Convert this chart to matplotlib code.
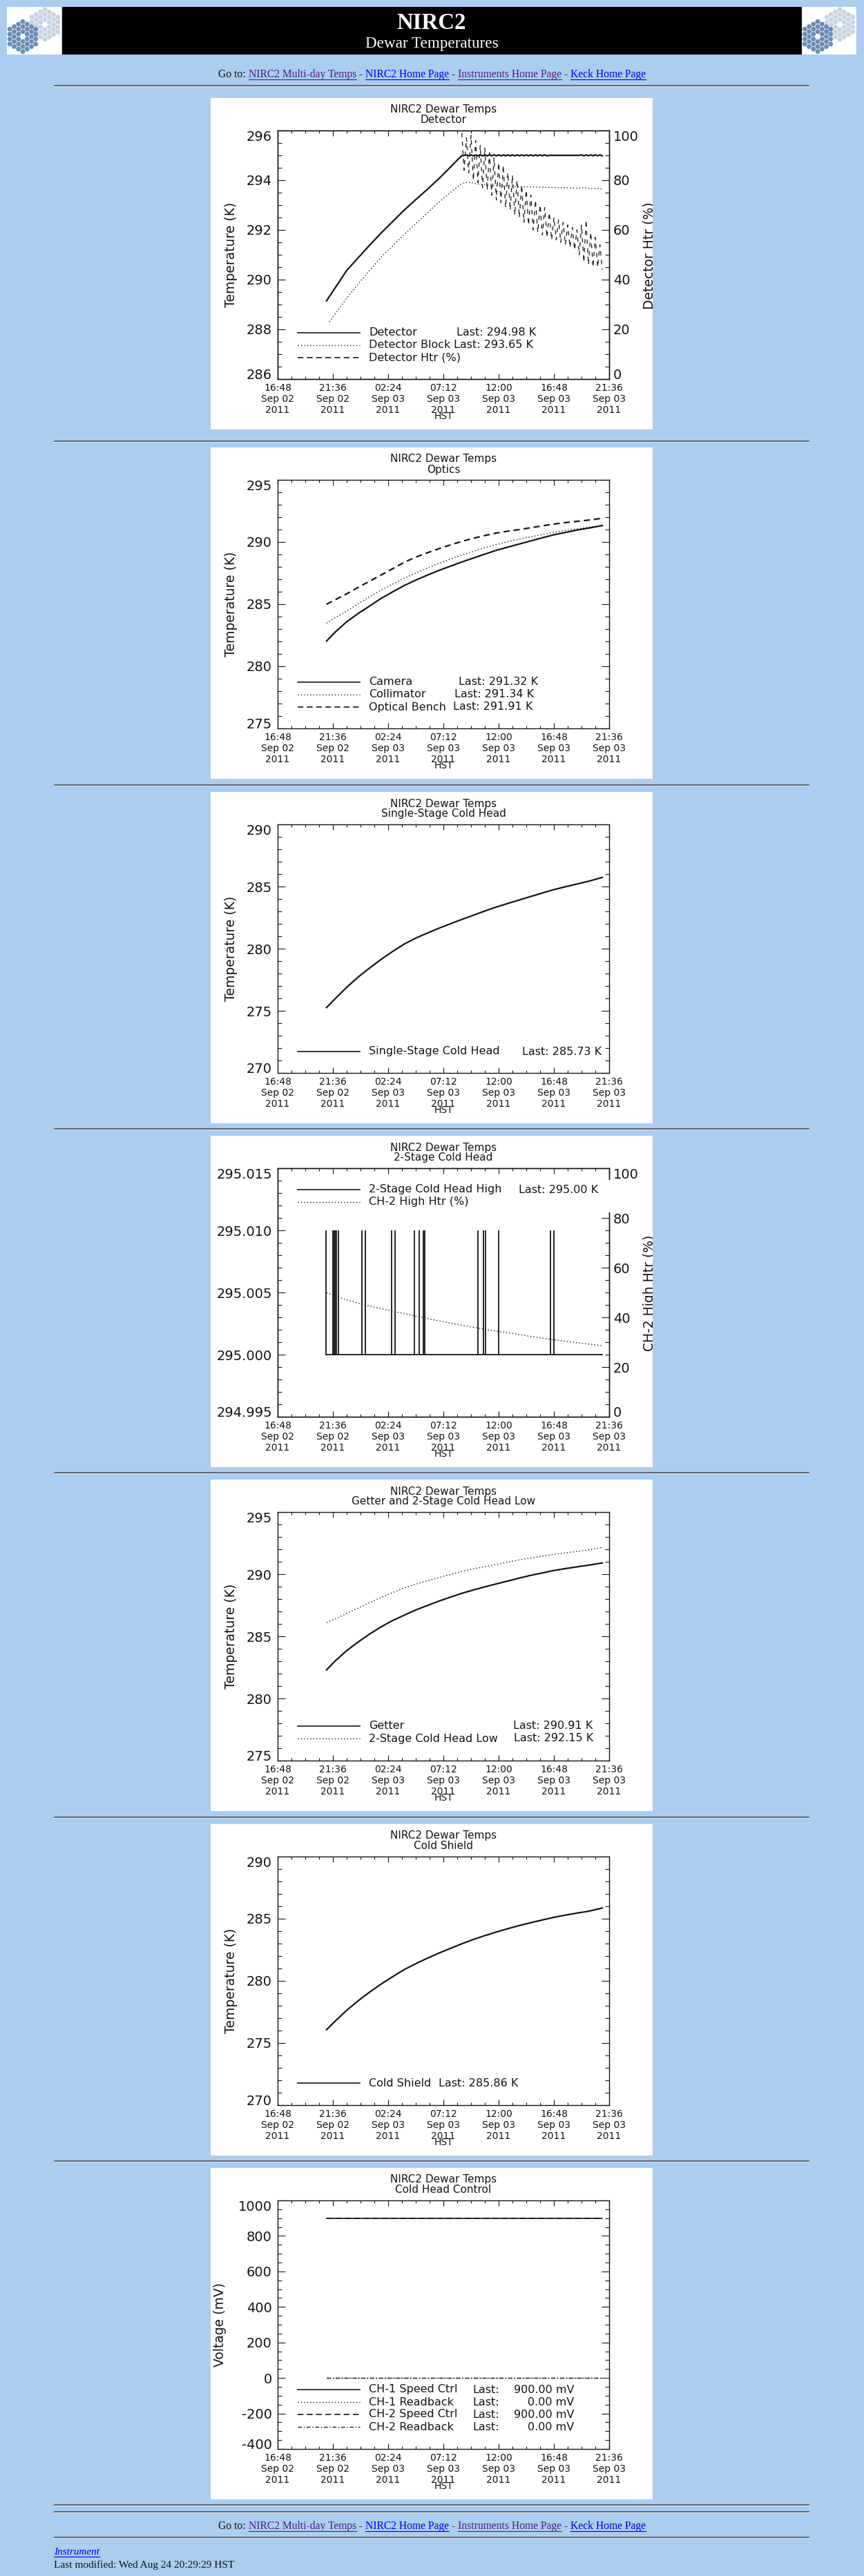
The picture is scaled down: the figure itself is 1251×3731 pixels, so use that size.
import math
import matplotlib
matplotlib.use('Agg')
import matplotlib.pyplot as plt
from matplotlib.patches import Rectangle, RegularPolygon
from matplotlib.ticker import MultipleLocator

plt.rcParams['font.family'] = ['DejaVu Sans']

W, H, DPI = 1251, 3731, 100
PAGE_BG = '#ABCDEF'
LINK = '#0000EE'
VISITED = '#551A8B'
INK = '#141414'

# ------------------------------------------------------------------ data
# time axis: hours after 16:48 HST, Sep 02 2011
x_ticks = [0.0, 4.8, 9.6, 14.4, 19.2, 24.0, 28.8]
x_tick_labels = ['16:48\nSep 02\n2011', '21:36\nSep 02\n2011', '02:24\nSep 03\n2011',
                 '07:12\nSep 03\n2011', '12:00\nSep 03\n2011', '16:48\nSep 03\n2011',
                 '21:36\nSep 03\n2011']
x_title = 'HST'
hours = [4.25, 5, 6, 7, 8, 9, 10, 11, 12, 13, 14, 15, 16, 17, 18, 19, 20,
         21, 22, 23, 24, 25, 26, 27, 28.2]

# chart 1 : Detector
det_hours = [4.25, 5, 6, 7, 8, 9, 10, 11, 12, 13, 14, 15, 15.97, 16.2,
             16.4, 16.6, 16.8, 17.0, 17.2, 17.4, 17.6, 17.8, 18.0, 18.2,
             18.4, 18.6, 18.8, 19.0, 19.2, 19.4, 19.6, 19.8, 20.0, 20.2,
             20.4, 20.6, 20.8, 21.0, 21.2, 21.4, 21.6, 21.8, 22.0, 22.2,
             22.4, 22.6, 22.8, 23.0, 23.2, 23.4, 23.6, 24.5, 25.5, 26.2,
             26.4, 26.6, 26.8, 27.0, 27.2, 27.4, 27.6, 27.8, 28.0, 28.2]
det_temp = [289.15, 289.67, 290.37, 290.88, 291.39, 291.88, 292.34, 292.80, 293.22, 293.63,
            294.06, 294.52, 294.98, 295.00,
            295.02, 294.98, 295.02, 294.98, 295.02, 294.98, 295.02, 294.98, 295.02, 294.98,
            295.02, 294.98, 295.02, 294.98, 295.02, 294.98, 295.02, 294.98, 295.02, 294.98,
            295.02, 294.98, 295.02, 294.98, 295.02, 294.98, 295.02, 294.98, 295.02, 294.98,
            295.02, 294.98, 295.02, 294.98, 295.02, 294.98, 295.00, 295.00, 295.00, 295.00,
            295.02, 294.98, 295.02, 294.98, 295.02, 294.98, 295.02, 294.98, 295.02, 294.98]
blk_hours = [4.5, 5, 6, 7, 8, 9, 10, 11, 12, 13, 14, 15, 16, 16.5, 17, 17.5, 18,
             19, 20, 21, 22, 23, 24, 25, 26, 26.6, 27.2, 28.2]
blk_temp = [288.30, 288.62, 289.26, 289.82, 290.38, 290.91, 291.36, 291.82, 292.25, 292.68,
            293.11, 293.50, 293.87, 293.92, 293.88, 293.84, 293.82, 293.78, 293.76, 293.74,
            293.73, 293.72, 293.71, 293.70, 293.68, 293.70, 293.66, 293.65]
htr_hours = [16.0, 16.2, 16.4, 16.6, 16.8, 17.0, 17.2, 17.4, 17.6, 17.8,
             18.0, 18.2, 18.4, 18.6, 18.8, 19.0, 19.2, 19.4, 19.6, 19.8,
             20.0, 20.2, 20.4, 20.6, 20.8, 21.0, 21.2, 21.4, 21.6, 21.8,
             22.0, 22.2, 22.4, 22.6, 22.8, 23.0, 23.2, 23.4, 23.6, 23.8,
             24.0, 24.2, 24.4, 24.6, 24.8, 25.0, 25.2, 25.4, 25.6, 25.8,
             26.0, 26.2, 26.4, 26.6, 26.8, 27.0, 27.2, 27.4, 27.6, 27.8,
             28.0, 28.2]
htr_pct = [99, 84, 97, 83, 98, 80, 96, 79, 94, 77,
           93, 76, 91, 74, 89, 72, 87, 71, 86, 69,
           83, 68, 82, 66, 80, 65, 78, 63, 76, 62,
           74, 60, 72, 59, 70, 58, 69, 57, 67, 56,
           65, 56, 64, 55, 63, 54, 62, 53, 61, 52,
           60, 50, 62, 47, 64, 46, 59, 45, 57, 45,
           54, 44]
det_yticks = [286, 288, 290, 292, 294, 296]
pct_yticks = [0, 20, 40, 60, 80, 100]

# chart 2 : Optics
camera_temp = [282.03, 282.75, 283.58, 284.25, 284.85, 285.47, 285.99, 286.50, 286.93,
               287.33, 287.71, 288.05, 288.39, 288.71, 289.02, 289.33, 289.59, 289.84,
               290.09, 290.34, 290.58, 290.77, 290.96, 291.12, 291.32]
collimator_temp = [283.47, 283.90, 284.44, 285.03, 285.60, 286.13, 286.62, 287.08, 287.50,
                   287.90, 288.28, 288.62, 288.95, 289.25, 289.53, 289.79, 290.03, 290.23,
                   290.42, 290.60, 290.78, 290.93, 291.06, 291.18, 291.34]
bench_temp = [284.99, 285.35, 285.83, 286.35, 286.85, 287.35, 287.85, 288.37, 288.78,
              289.13, 289.46, 289.76, 290.05, 290.30, 290.52, 290.72, 290.87, 291.00,
              291.15, 291.30, 291.44, 291.56, 291.66, 291.76, 291.91]
optics_yticks = [275, 280, 285, 290, 295]

# chart 3 : Single-Stage Cold Head
single_stage_temp = [275.26, 275.98, 276.89, 277.72, 278.45, 279.15, 279.78, 280.37, 280.85,
                     281.25, 281.64, 282.00, 282.35, 282.69, 283.03, 283.35, 283.64, 283.92,
                     284.20, 284.48, 284.75, 284.98, 285.20, 285.42, 285.73]
k270_yticks = [270, 275, 280, 285, 290]

# chart 4 : 2-Stage Cold Head
ch2_high_hours = [4.22, 28.2]
ch2_high_temp = [295.000, 295.000]
ch2_spike_hours = [4.22, 4.80, 4.90, 5.00, 5.10, 5.30, 7.34, 7.64, 9.90, 10.20,
                   11.86, 12.32, 12.68, 12.78, 17.38, 17.88, 18.04, 19.20, 23.72, 24.02]
ch2_spike_low = 295.000
ch2_spike_high = 295.010
ch2_htr_hours = [4.25, 6, 8, 10, 12, 14, 16, 18, 20, 22, 24, 26, 28.2]
ch2_htr_pct = [49.9, 47.0, 44.5, 42.5, 40.5, 38.6, 36.8, 35.2, 33.8, 32.3, 31.0, 29.8, 28.6]
ch2_yticks = [294.995, 295.000, 295.005, 295.010, 295.015]

# chart 5 : Getter and 2-Stage Cold Head Low
getter_temp = [282.30, 283.02, 283.85, 284.55, 285.19, 285.77, 286.28, 286.70, 287.12,
               287.48, 287.83, 288.15, 288.46, 288.73, 288.98, 289.22, 289.45, 289.69,
               289.91, 290.10, 290.30, 290.45, 290.59, 290.72, 290.91]
ch2_low_temp = [286.11, 286.40, 286.85, 287.28, 287.72, 288.13, 288.52, 288.90, 289.20,
                289.47, 289.73, 289.98, 290.22, 290.42, 290.61, 290.79, 290.97, 291.15,
                291.31, 291.45, 291.60, 291.72, 291.83, 291.95, 292.15]

# chart 6 : Cold Shield
cold_shield_temp = [276.07, 276.76, 277.63, 278.40, 279.10, 279.75, 280.34, 280.91, 281.38,
                    281.82, 282.23, 282.61, 282.98, 283.33, 283.64, 283.93, 284.20, 284.45,
                    284.68, 284.90, 285.11, 285.29, 285.45, 285.60, 285.86]

# chart 7 : Cold Head Control
ctrl_hours = [4.25, 28.2]
ch1_speed_mv = [900.0, 900.0]
ch1_readback_mv = [0.0, 0.0]
ch2_speed_mv = [900.0, 900.0]
ch2_readback_mv = [0.0, 0.0]
mv_yticks = [-400, -200, 0, 200, 400, 600, 800, 1000]

# ------------------------------------------------------------------ styles
SOLID = dict(ls='-', lw=1.6)
THIN = dict(ls='-', lw=1.2)
DOTTED = dict(ls=(0, (1, 2.2)), lw=1.0)
DASHED = dict(ls=(0, (4, 2.6)), lw=1.6)
DASHED_T = dict(ls=(0, (5, 3)), lw=1.2)
HTR_DASH = dict(ls=(0, (5, 5)), lw=0.9)
DASHDOT = dict(ls=(0, (4, 2, 1, 2)), lw=1.0)

fig = plt.figure(figsize=(W / DPI, H / DPI), dpi=DPI, facecolor=PAGE_BG)


def px_axes(x, y, w, h):
    return fig.add_axes([x / W, 1 - (y + h) / H, w / W, h / H])


page = px_axes(0, 0, W, H)
page.set_xlim(0, W)
page.set_ylim(H, 0)
page.set_autoscale_on(False)
page.axis('off')
renderer = fig.canvas.get_renderer()

SERIF = ['Liberation Serif', 'DejaVu Serif']


def text_width(s, **kw):
    t = page.text(0, 0, s + '|', **kw)
    w1 = t.get_window_extent(renderer).width
    t.remove()
    t = page.text(0, 0, '|', **kw)
    w2 = t.get_window_extent(renderer).width
    t.remove()
    return w1 - w2


def fit_size(s, target, base=12, **kw):
    w = text_width(s, fontsize=base, **kw)
    return base * target / w


def hrule(y):
    page.plot([78, 1172], [y, y], color='#5c5c5c', lw=1.3, solid_capstyle='butt')
    page.plot([78, 1172], [y + 1.6, y + 1.6], color='#E6EEF6', lw=0.7, solid_capstyle='butt')


def draw_logo(x0, y0):
    page.add_patch(Rectangle((x0, y0), 79, 69, facecolor='white', edgecolor='none'))
    R = 4.17
    for cx, cy, col in [(x0 + 55, y0 + 25.5, '#C6D3E3'), (x0 + 23, y0 + 43, '#6A8CB4')]:
        for q in range(-3, 4):
            for s in range(-3, 4):
                d = max(abs(q), abs(s), abs(q + s))
                if d == 0 or d > 3:
                    continue
                hx = cx + 1.5 * R * q
                hy = cy + math.sqrt(3) * R * (s + q / 2)
                page.add_patch(RegularPolygon((hx, hy), 6, radius=R * 0.9,
                                              orientation=math.pi / 6,
                                              facecolor=col, edgecolor='none'))


# ---------------- header
page.add_patch(Rectangle((90, 10), 1071, 69, facecolor='black', edgecolor='none'))
draw_logo(10, 10)
draw_logo(1161, 10)
fs = fit_size('NIRC2', 100, family=SERIF, fontweight='bold')
page.text(625, 41.7, 'NIRC2', color='white', fontsize=fs, family=SERIF,
          fontweight='bold', ha='center', va='baseline')
fs = fit_size('Dewar Temperatures', 192, family=SERIF)
page.text(625, 69.3, 'Dewar Temperatures', color='white', fontsize=fs, family=SERIF,
          ha='center', va='baseline')

nav_segments = [('Go to: ', INK, False), ('NIRC2 Multi-day Temps', VISITED, True),
                (' - ', INK, False), ('NIRC2 Home Page', LINK, True),
                (' - ', INK, False), ('Instruments Home Page', VISITED, True),
                (' - ', INK, False), ('Keck Home Page', LINK, True)]
nav_full = ''.join(s for s, _, _ in nav_segments)
NAV_FS = fit_size(nav_full, 621, family=SERIF)


def nav_line(baseline):
    total = text_width(nav_full, fontsize=NAV_FS, family=SERIF)
    x0 = (W - total) / 2
    prefix = ''
    for s, col, ul in nav_segments:
        xs = x0 + (text_width(prefix, fontsize=NAV_FS, family=SERIF) if prefix else 0)
        page.text(xs, baseline, s, color=col, fontsize=NAV_FS, family=SERIF,
                  ha='left', va='baseline')
        if ul:
            w = text_width(s, fontsize=NAV_FS, family=SERIF)
            page.plot([xs, xs + w], [baseline + 2.6, baseline + 2.6], color=col, lw=0.8)
        prefix += s


nav_line(112)
hrule(123.5)

# ---------------- panels
PX, PW, PH = 305, 640, 480
AX_L, AX_T, AX_W, AX_H = 97, 47, 480, 360
panel_tops = [142, 648, 1147, 1645, 2143, 2642, 3140]
rule_ys = [638.5, 1136.5, 1634.5, 2132.5, 2631.5, 3129.5]


def style_yaxis(a, side, ticks, labels, minor):
    a.set_yticks(ticks, labels)
    a.yaxis.set_minor_locator(MultipleLocator(minor))
    a.tick_params(axis='y', which='both', direction='in', width=0.8, color=INK,
                  labelsize=14, labelcolor=INK)
    a.tick_params(axis='y', which='major', length=8)
    a.tick_params(axis='y', which='minor', length=4.3)
    if side == 'both':
        a.tick_params(axis='y', which='both', left=True, right=True, pad=5.8)
    elif side == 'left':
        a.tick_params(axis='y', which='both', left=True, right=False, pad=5.8)
    else:
        a.tick_params(axis='y', which='both', left=False, right=True, labelright=True,
                      labelleft=False, pad=4.3)
    lbls = a.get_yticklabels() if side != 'right' else [t.label2 for t in a.yaxis.get_major_ticks()]
    lbls[0].set_va('baseline')
    lbls[-1].set_va('top')


def make_panel(top, subtitle, ylim, yticks, ylabels, yminor, ylabel, ylabel_x, twin=False):
    pan = px_axes(PX, top, PW, PH)
    pan.set_facecolor('white')
    pan.set_xticks([])
    pan.set_yticks([])
    for s in pan.spines.values():
        s.set_visible(False)

    ax = px_axes(PX + AX_L, top + AX_T, AX_W, AX_H)
    ax.set_facecolor('none')
    ax.set_xlim(0, 28.8)
    ax.set_ylim(*ylim)
    ax.set_xticks(x_ticks, x_tick_labels)
    ax.xaxis.set_minor_locator(MultipleLocator(1.2))
    ax.tick_params(axis='x', which='both', direction='in', top=True, bottom=True,
                   width=0.8, color=INK, labelsize=10, labelcolor=INK, pad=4.0)
    ax.tick_params(axis='x', which='major', length=5.5)
    ax.tick_params(axis='x', which='minor', length=3.0)
    style_yaxis(ax, 'left' if twin else 'both', yticks, ylabels, yminor)
    for s in ax.spines.values():
        s.set_linewidth(1.0)
        s.set_color(INK)

    ax2 = None
    if twin:
        ax2 = ax.twinx()
        ax2.set_ylim(0, 100)
        style_yaxis(ax2, 'right', pct_yticks, [str(v) for v in pct_yticks], 5)
        for s in ax2.spines.values():
            s.set_linewidth(1.0)
            s.set_color(INK)

    ov = px_axes(PX, top, PW, PH)
    ov.set_xlim(0, PW)
    ov.set_ylim(PH, 0)
    ov.set_autoscale_on(False)
    ov.axis('off')

    ov.text(337, 17, 'NIRC2 Dewar Temps', ha='center', va='center', fontsize=11, color=INK)
    ov.text(337, 32, subtitle, ha='center', va='center', fontsize=11, color=INK)
    ov.text(337, 461, x_title, ha='center', va='center', fontsize=10, color=INK)
    if ylabel:
        ov.text(ylabel_x, 227, ylabel, rotation=90, ha='center', va='center',
                fontsize=13.5, color=INK)
    return ax, ax2, ov


def right_label(ov, text):
    t = ov.text(626, 228, text, rotation=90, ha='left', va='center', fontsize=13.5,
                color=INK, clip_on=True)
    t.set_clip_box(ov.bbox)


def legend_row(ov, y, style, name, last=None, last_x=None, extra=None):
    ov.plot([126, 216], [y, y], color=INK, **style)
    ov.text(229, y, name, ha='left', va='center', fontsize=11.5, color=INK)
    if last is not None:
        ov.text(last_x, y, last, ha='left', va='center', fontsize=11.5, color=INK)
    if extra is not None:
        ov.text(extra[0], y, extra[1], ha='right', va='center', fontsize=11.5, color=INK)


# chart 1 -- Detector
ax, ax2, ov = make_panel(panel_tops[0], 'Detector', (286, 296), det_yticks,
                         [str(v) for v in det_yticks], 0.5, 'Temperature (K)', 30, twin=True)
ax.plot(det_hours, det_temp, color=INK, **SOLID)
ax.plot(blk_hours, blk_temp, color=INK, **DOTTED)
ax2.plot(htr_hours, htr_pct, color=INK, **HTR_DASH)
right_label(ov, 'Detector Htr (%)')
legend_row(ov, 340, THIN, 'Detector', 'Last: 294.98 K', 356)
legend_row(ov, 358, DOTTED, 'Detector Block', 'Last: 293.65 K', 352)
legend_row(ov, 376, DASHED_T, 'Detector Htr (%)')

# chart 2 -- Optics
ax, _, ov = make_panel(panel_tops[1], 'Optics', (275, 295), optics_yticks,
                       [str(v) for v in optics_yticks], 1, 'Temperature (K)', 30)
ax.plot(hours, camera_temp, color=INK, **SOLID)
ax.plot(hours, collimator_temp, color=INK, **DOTTED)
ax.plot(hours, bench_temp, color=INK, **DASHED)
legend_row(ov, 340, THIN, 'Camera', 'Last: 291.32 K', 359)
legend_row(ov, 358, DOTTED, 'Collimator', 'Last: 291.34 K', 353)
legend_row(ov, 376, DASHED_T, 'Optical Bench', 'Last: 291.91 K', 351)

# chart 3 -- Single-Stage Cold Head
ax, _, ov = make_panel(panel_tops[2], 'Single-Stage Cold Head', (270, 290), k270_yticks,
                       [str(v) for v in k270_yticks], 1, 'Temperature (K)', 30)
ax.plot(hours, single_stage_temp, color=INK, **SOLID)
legend_row(ov, 376, THIN, 'Single-Stage Cold Head', 'Last: 285.73 K', 451)

# chart 4 -- 2-Stage Cold Head (no left axis title in the reference)
ax, ax2, ov = make_panel(panel_tops[3], '2-Stage Cold Head', (294.995, 295.015), ch2_yticks,
                         ['%.3f' % v for v in ch2_yticks], 0.001, None, 30, twin=True)
ax.plot(ch2_high_hours, ch2_high_temp, color=INK, lw=1.3)
ax.vlines(ch2_spike_hours, ch2_spike_low, ch2_spike_high, colors=INK, lw=1.3)
ax2.plot(ch2_htr_hours, ch2_htr_pct, color=INK, **DOTTED)
right_label(ov, 'CH-2 High Htr (%)')
ov.add_patch(Rectangle((104, 64), 478, 47, facecolor='white', edgecolor='none', zorder=0.5))
legend_row(ov, 78, THIN, '2-Stage Cold Head High', 'Last: 295.00 K', 446)
legend_row(ov, 96, DOTTED, 'CH-2 High Htr (%)')

# chart 5 -- Getter and 2-Stage Cold Head Low
ax, _, ov = make_panel(panel_tops[4], 'Getter and 2-Stage Cold Head Low', (275, 295),
                       optics_yticks, [str(v) for v in optics_yticks], 1, 'Temperature (K)', 30)
ax.plot(hours, getter_temp, color=INK, **SOLID)
ax.plot(hours, ch2_low_temp, color=INK, **DOTTED)
legend_row(ov, 357, THIN, 'Getter', 'Last: 290.91 K', 438)
legend_row(ov, 375, DOTTED, '2-Stage Cold Head Low', 'Last: 292.15 K', 439)

# chart 6 -- Cold Shield
ax, _, ov = make_panel(panel_tops[5], 'Cold Shield', (270, 290), k270_yticks,
                       [str(v) for v in k270_yticks], 1, 'Temperature (K)', 30)
ax.plot(hours, cold_shield_temp, color=INK, **SOLID)
legend_row(ov, 375, THIN, 'Cold Shield', 'Last: 285.86 K', 330)

# chart 7 -- Cold Head Control
ax, _, ov = make_panel(panel_tops[6], 'Cold Head Control', (-400, 1000), mv_yticks,
                       [str(v) for v in mv_yticks], 50, 'Voltage (mV)', 13)
ax.plot(ctrl_hours, ch1_speed_mv, color=INK, **THIN)
ax.plot(ctrl_hours, ch1_readback_mv, color=INK, **DOTTED)
ax.plot(ctrl_hours, ch2_speed_mv, color=INK, ls=(0, (5, 3)), lw=1.2)
ax.plot(ctrl_hours, ch2_readback_mv, color=INK, **DASHDOT)
legend_row(ov, 321, THIN, 'CH-1 Speed Ctrl', 'Last:', 379, extra=(526, '900.00 mV'))
legend_row(ov, 339, DOTTED, 'CH-1 Readback', 'Last:', 379, extra=(526, '0.00 mV'))
legend_row(ov, 357, DASHED_T, 'CH-2 Speed Ctrl', 'Last:', 379, extra=(526, '900.00 mV'))
legend_row(ov, 375, DASHDOT, 'CH-2 Readback', 'Last:', 379, extra=(526, '0.00 mV'))

for y in rule_ys:
    hrule(y)

# ---------------- footer
hrule(3627.5)
hrule(3637.5)
nav_line(3663)
hrule(3674.5)
fs = fit_size('Instrument', 66, family=SERIF, fontstyle='italic')
page.text(78, 3700, 'Instrument', color=LINK, fontsize=fs, family=SERIF,
          fontstyle='italic', ha='left', va='baseline')
wi = text_width('Instrument', fontsize=fs, family=SERIF, fontstyle='italic')
page.plot([78, 78 + wi], [3702.8, 3702.8], color=LINK, lw=0.8)
fs = fit_size('Last modified: Wed Aug 24 20:29:29 HST', 261, family=SERIF)
page.text(78, 3719, 'Last modified: Wed Aug 24 20:29:29 HST', color=INK, fontsize=fs,
          family=SERIF, ha='left', va='baseline')

fig.savefig('out.png', dpi=DPI, facecolor=PAGE_BG)
